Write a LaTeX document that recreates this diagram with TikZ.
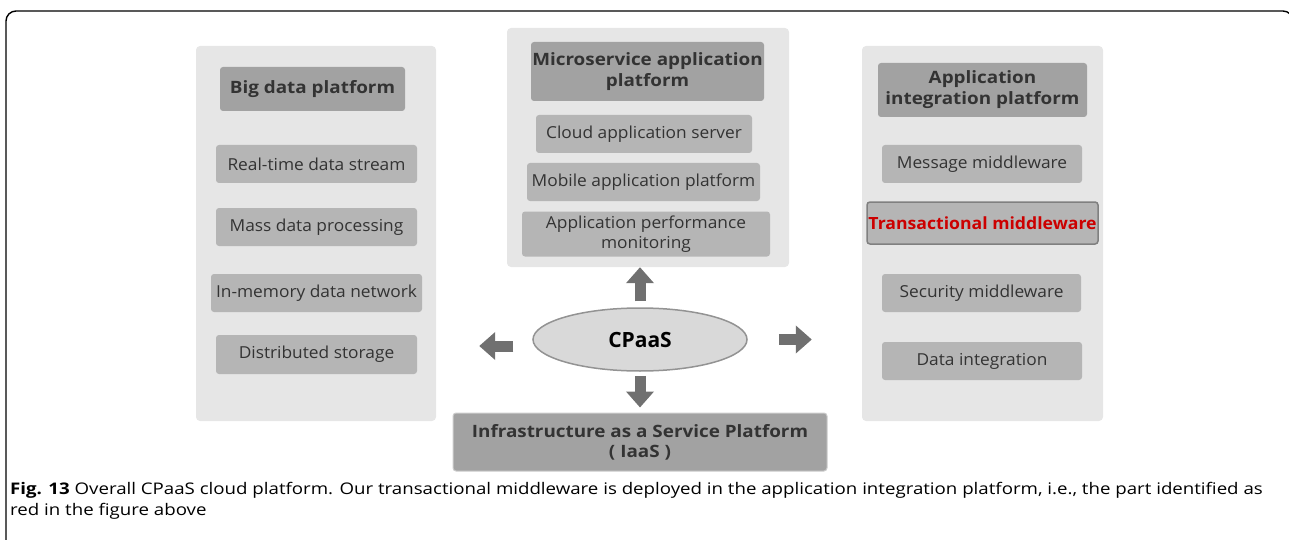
\documentclass[tikz,border=0pt]{standalone}
\usepackage{fontspec}
\usepackage{xcolor}
\setmainfont{Open Sans}
\newfontfamily\itemfont[FakeStretch=1.05]{Open Sans}
\newfontfamily\headfont[FakeStretch=1.11]{Open Sans}
\newfontfamily\capfont[FakeStretch=1.167]{Open Sans}
\definecolor{panelgray}{HTML}{E6E6E6}
\definecolor{headgray}{HTML}{A2A2A2}
\definecolor{itemgray}{HTML}{B5B5B5}
\definecolor{textgray}{HTML}{333333}
\definecolor{arrowgray}{HTML}{707070}
\definecolor{ellgray}{HTML}{D9D9D9}
\definecolor{markred}{HTML}{CC0000}
\usetikzlibrary{arrows.meta,shapes.geometric}

\begin{document}
\begin{tikzpicture}[x=1pt,y=-1pt,
  panel/.style={fill=panelgray,rounded corners=4pt,minimum width=240pt,minimum height=375pt,inner sep=0pt},
  head/.style={fill=headgray,rounded corners=3pt,inner sep=0pt,text=textgray,align=center,
    font=\headfont\fontsize{17}{21}\selectfont\bfseries},
  item/.style={fill=itemgray,rounded corners=3pt,inner sep=0pt,minimum height=38pt,text=textgray,align=center,
    font=\itemfont\fontsize{16.5}{20}\selectfont},
  bigarrow/.style={draw=arrowgray,line width=11pt,-{Triangle[width=27pt,length=16pt]}}]
  \useasboundingbox (0,0) rectangle (1289,540);
  \draw[rounded corners=10pt,line width=1.4pt] (6,11) rectangle (1293,570);

  \node (bigdata) [panel] at (316,233.5) {};
  \node (micro) [panel,minimum width=282pt,minimum height=239pt] at (648,147.5) {};
  \node (integ) [panel,minimum width=241pt] at (982.5,233.5) {};

  \node (bigdata_h) [head,minimum width=185pt,minimum height=44pt] at (312.5,89) {Big data platform};
  \node (bigdata_1) [item,minimum width=201pt] at (316.5,164) {Real-time data stream};
  \node (bigdata_2) [item,minimum width=201pt] at (316.5,227) {Mass data processing};
  \node (bigdata_3) [item,minimum width=211pt] at (316.5,293) {In-memory data network};
  \node (bigdata_4) [item,minimum width=201pt,minimum height=39pt] at (316.5,354.5) {Distributed storage};

  \node (micro_h) [head,minimum width=233pt,minimum height=59pt] at (647.5,71.5) {Microservice application\\platform};
  \node (micro_1) [item,minimum width=216pt] at (644,134) {Cloud application server};
  \node (micro_2) [item,minimum width=233pt] at (643.5,182) {Mobile application platform};
  \node (micro_3) [item,minimum width=248pt,minimum height=45pt] at (646,234) {Application performance\\monitoring};

  \node (integ_h) [head,minimum width=209pt,minimum height=54pt] at (982.5,90) {Application\\integration platform};
  \node (integ_1) [item,minimum width=200pt] at (982,164) {Message middleware};
  \node (integ_2) [item,minimum width=231pt,minimum height=42pt,draw=gray,line width=1.5pt,text=markred,
    font=\itemfont\fontsize{16.8}{20}\selectfont\bfseries] at (982.5,223) {Transactional middleware};
  \node (integ_3) [item,minimum width=199pt] at (981.5,293) {Security middleware};
  \node (integ_4) [item,minimum width=200pt] at (982,361) {Data integration};

  \node (iaas) [head,draw=gray!40,line width=1pt,minimum width=374pt,minimum height=58pt,
    font=\headfont\fontsize{17}{20}\selectfont\bfseries] at (640,442) {Infrastructure as a Service Platform\\( IaaS )};
  \node (cpaas) [ellipse,fill=ellgray,draw=gray!85,line width=1.5pt,minimum width=214pt,minimum height=63pt,
    font=\fontsize{21}{24}\selectfont\bfseries] at (640,339.5) {CPaaS};

  \draw[bigarrow,shorten <=6pt] (cpaas.north) -- (cpaas.north |- micro.south);
  \draw[bigarrow,shorten <=4pt,shorten >=5pt] (cpaas.south) -- (iaas.north);
  \draw[bigarrow,shorten <=19pt,shorten >=43pt] ([yshift=-6.5pt]cpaas.west) -- ([yshift=-6.5pt]cpaas.west -| bigdata.east);
  \draw[bigarrow,shorten <=31pt,shorten >=50pt] (cpaas.east) -- (cpaas.east -| integ.west);

  \node (caption) [anchor=base west,align=left,inner sep=0pt,font=\capfont\fontsize{16}{21}\selectfont] at (10,515)
    {\textbf{Fig. 13} Overall CPaaS cloud platform. Our transactional middleware is deployed in the application integration platform, i.e., the part identified as\\red in the figure above};
\end{tikzpicture}
\end{document}
